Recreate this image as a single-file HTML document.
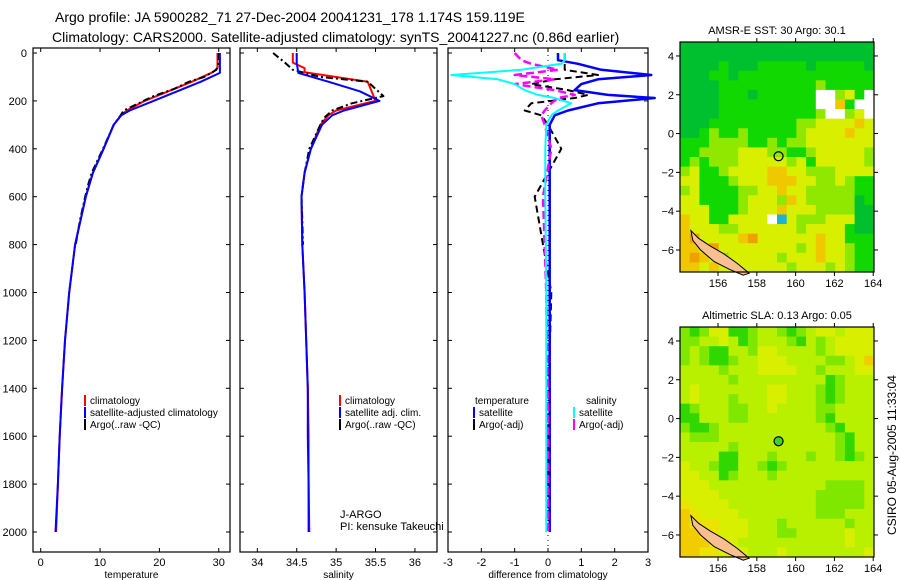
<!DOCTYPE html>
<html><head><meta charset="utf-8"><style>
body{margin:0;background:#fff;}
svg{display:block;font-family:"Liberation Sans",sans-serif;}
</style></head><body>
<svg id="c" width="900" height="580" viewBox="0 0 900 580">
<text x="55" y="22" font-size="14">Argo profile: JA 5900282_71 27-Dec-2004 20041231_178 1.174S 159.119E</text>
<text x="52" y="42" font-size="14">Climatology: CARS2000. Satellite-adjusted climatology: synTS_20041227.nc (0.86d earlier)</text>
<text x="777" y="34" font-size="11" text-anchor="middle">AMSR-E SST: 30 Argo: 30.1</text>
<text x="777" y="319" font-size="11" text-anchor="middle">Altimetric SLA: 0.13 Argo: 0.05</text>
<text transform="translate(896,535) rotate(-90)" font-size="12">CSIRO 05-Aug-2005 11:33:04</text>
<text x="340" y="518" font-size="11">J-ARGO</text>
<text x="340" y="530" font-size="11">PI: kensuke Takeuchi</text>
</svg>
<script>
// ---- data ----
const depthTicks=[0,200,400,600,800,1000,1200,1400,1600,1800,2000];
const tempTicks=[0,10,20,30];
const salTicks=[34,34.5,35,35.5,36];
const salTickLabels=["34","34.5","35","35.5","36"];
const diffTicks=[-3,-2,-1,0,1,2,3];
const climDepth=[0,40,63,80,120,160,200,240,260,300,400,500,600,800,1000,1200,1400,1600,1800,2000];
const climTemp=[29.8,29.8,29.8,29.0,25.5,21.5,17.5,14.5,13.5,12.3,10.6,8.8,7.6,5.8,4.8,4.1,3.6,3.2,2.9,2.6];
const satDepth=[0,40,83,120,160,200,240,260,300,400,500,600,800,1000,1200,1400,1600,1800,2000];
const satTemp=[30.2,30.2,30.2,27.0,23.0,19.0,15.0,13.6,12.3,10.6,8.8,7.6,5.8,4.8,4.1,3.6,3.2,2.9,2.5];
const argoDepth=[0,40,70,100,120,150,180,210,240,270,300,400,500,550,600,700,800];
const argoTemp=[30.0,30.0,29.6,27.5,25.0,22.5,19.0,16.5,14.0,13.2,12.3,10.5,8.6,8.0,7.5,6.6,5.9];
const climSal=[34.45,34.45,34.6,34.6,35.4,35.45,35.5,35.0,34.9,34.8,34.68,34.6,34.56,34.57,34.6,34.62,34.64,34.65,34.65,34.66];
const satSal=[34.5,34.5,34.52,34.9,35.3,35.55,35.1,34.95,34.82,34.68,34.6,34.56,34.57,34.6,34.62,34.64,34.64,34.65,34.65];
const argoSal=[34.2,34.35,34.45,34.8,35.4,35.5,35.6,35.2,34.95,34.85,34.8,34.66,34.6,34.58,34.56,34.57,34.58];
const diffDepth=[0,30,45,70,92,110,130,155,175,188,210,240,260,300,400,600,1000,1500,2000];
const dTempSat=[0.3,0.3,0.9,1.6,3.1,1.5,1.0,0.8,1.8,3.2,1.5,0.6,0.2,0.05,0.05,0.05,0.05,0.05,0.05];
const dSalSat=[0.5,0.5,0.4,-0.8,-2.9,-1.5,-1.0,-0.7,-0.3,0.2,0.7,0.3,0.1,-0.05,-0.08,-0.08,-0.05,-0.05,-0.05];
const dSalArgo=[-1.0,-0.8,-0.5,0.3,-1.0,0.2,-1.0,0.2,0.8,0.3,0.1,-0.1,-0.2,-0.1,0.1,-0.15,-0.05,0,0];
const dTempArgo=[0.5,0.5,0.5,0.5,1.5,0.2,-0.5,0.6,1.2,0.8,-0.5,-0.7,-0.2,0,0.4,-0.4,0.1,0,0];
const lonTicks=[156,158,160,162,164];
const latTicks=[-6,-4,-2,0,2,4];
const sstRows=["gggggggggggggggggggg","gggggggggggggggggggg","ggggGgggGGGGGgGGGGGg","gggGGgGGGGGGGGGGGGGG","ggggGGGGGGGGGGlGGGGG","ggggGGGgGGGGGGwwlyGw","ggggGGGGGGGGGGwwoGww","ggggGGGGGGGGGGlwwlyw","gggGGGGGGGGGllyyyyoy","ggGlGGlGGGGGlyyyyoyy","GGGllllGGlGllyyyyyyy","GGllllyyyllGGlyyyyyl","GlGlllyyyyylyGyyyyyl","lyGGlyyyyooyylllyyyy","yyGGGlyyyoooyyllylGG","lyGGGGllyyoyylllllGG","yyGGGGlyyyloylllllgG","yyyGGGlyyyoyyyllllgg","oyyGGyyyywcylllyyygg","oyyyllyyyyyylyyyyGgg","oOyyyyoOyyyyyyoyyGGG","ooyOyyyyyyyylyoyylGG","oOoylyyyyylyyyoyylGG","ooyoyyyyyyylyyylylGG"];
const slaRows=["gGgyyGGgllgGglyylyyy","ggllylGglllgGlglyyyy","glgGGllgyyllllglyyyy","glgGGgllyyyllllgglyo","llllglllyyyyllglllyy","lllllglllllllllGglll","lylllllllyylllgGglll","lylllglllyylllgGglll","Gglllggllyllllggllll","GGlllgglllllllgGllll","gGGglllllllllllgGlll","lgggllllllllllllgGll","lllllgllllllllllgGll","llllGGlllglllgllgGgl","yllgGGllgGglllllllll","yyllGglllgllllllllll","yyyllllllllllllggggl","yyyyllllllllllgggggl","Yyyyylllllllllgggggl","oYyyyyllllllllggglll","oYYYyyylllgllllllgll","ooYYyyylllgglllllyll","oooYYylllllllllllyll","ooYYyyylllylllllllly"];
const argoLon=159.12, argoLat=-1.17;
const coastLon=[154.6,155.0,155.6,156.3,157.0,157.6,157.3,156.6,155.8,155.1,154.7];
const coastLat=[-5.0,-5.4,-5.8,-6.2,-6.7,-7.2,-7.3,-7.0,-6.6,-6.0,-5.5];

const NS="http://www.w3.org/2000/svg";
const svg=document.getElementById('c');
function mk(tag,attrs,parent){const e=document.createElementNS(NS,tag);for(const k in attrs)e.setAttribute(k,attrs[k]);(parent||svg).appendChild(e);return e;}
function txt(x,y,s,size,anchor,parent){const t=mk('text',{x:x,y:y,'font-size':size,'text-anchor':anchor||'start'},parent);t.textContent=s;return t;}

const yD=d=>53+d*0.2395;
function panel(name,x0,x1,xmin,xmax,ticks,labels,xlabel,showY){
  const g=mk('g',{});
  
  
  const xs=v=>x0+(v-xmin)/(xmax-xmin)*(x1-x0);
  const fr=mk('rect',{x:x0,y:48,width:x1-x0,height:504,fill:'none',stroke:'#000','stroke-width':1.2},g);
  
  
  depthTicks.forEach(d=>{
    mk('line',{x1:x0,x2:x0+4,y1:yD(d),y2:yD(d),stroke:'#000'},g);
    mk('line',{x1:x1-4,x2:x1,y1:yD(d),y2:yD(d),stroke:'#000'},g);
    if(showY){const t=txt(x0-6,yD(d)+4,String(d),11,'end',g);
      
      }
  });
  ticks.forEach((v,i)=>{
    const x=xs(v);
    mk('line',{x1:x,x2:x,y1:552,y2:548,stroke:'#000'},g);
    mk('line',{x1:x,x2:x,y1:48,y2:52,stroke:'#000'},g);
    const t=txt(x,566,labels[i],11,'middle',g);
    
    
  });
  const xl=txt((x0+x1)/2,578,xlabel,10,'middle',g);
  
  
  return {g,xs};
}
function series(p,name,depths,vals,color,w,dash){
  const pts=depths.map((d,i)=>p.xs(vals[i]).toFixed(1)+','+yD(d).toFixed(1)).join(' ');
  const l=mk('polyline',{points:pts,fill:'none',stroke:color,'stroke-width':w,'stroke-dasharray':dash||'none','stroke-linejoin':'round'},p.g);
  
  
}
function legend(p,x,y,label,color,name){
  const g=mk('g',{},p.g);
  
  
  mk('rect',{x:x,y:y-9,width:2,height:11,fill:color},g);
  if(label) txt(x+6,y,label,10,'start',g);
}

const p1=panel('temperature-panel',33,230,-1.3,31.9,tempTicks,tempTicks.map(String),'temperature',true);
series(p1,'climatology-temp-line',climDepth,climTemp,'#f00',2);
series(p1,'argo-temp-line',argoDepth,argoTemp,'#000',2,'7,3,2,3');
series(p1,'satellite-temp-line',satDepth,satTemp,'#00f',2);
legend(p1,84,404,'climatology','#f00','legend-climatology');
legend(p1,84,416,'satellite-adjusted climatology','#00f','legend-satellite');
legend(p1,84,428,'Argo(..raw -QC)','#000','legend-argo');

const p2=panel('salinity-panel',240,437,33.78,36.28,salTicks,salTickLabels,'salinity',false);
series(p2,'climatology-sal-line',climDepth,climSal,'#f00',2);
series(p2,'argo-sal-line',argoDepth,argoSal,'#000',2,'7,3,2,3');
series(p2,'satellite-sal-line',satDepth,satSal,'#00f',2);
legend(p2,339,404,'climatology','#f00','legend-sal-climatology');
legend(p2,339,416,'satellite adj. clim.','#00f','legend-sal-satellite');
legend(p2,339,428,'Argo(..raw -QC)','#000','legend-sal-argo');

const p3=panel('difference-panel',448,648,-3,3,diffTicks,diffTicks.map(String),'difference from climatology',false);
mk('line',{x1:p3.xs(0),x2:p3.xs(0),y1:50,y2:550,stroke:'#000','stroke-dasharray':'1,4'},p3.g);
series(p3,'argo-temp-diff-line',diffDepth,dTempArgo,'#000',2,'7,4');
series(p3,'satellite-temp-diff-line',diffDepth,dTempSat,'#00f',2.5);
series(p3,'argo-sal-diff-line',diffDepth,dSalArgo,'#f0f',2.5,'8,4');
series(p3,'satellite-sal-diff-line',diffDepth,dSalSat,'#0ff',2);
legend(p3,469,404,'temperature','transparent','legend-temp-header');
legend(p3,473,416,'satellite','#00f','legend-diff-temp-sat');
legend(p3,473,428,'Argo(-adj)','#000','legend-diff-temp-argo');
legend(p3,580,404,'salinity','transparent','legend-sal-header');
legend(p3,573,416,'satellite','#0ff','legend-diff-sal-sat');
legend(p3,573,428,'Argo(-adj)','#f0f','legend-diff-sal-argo');

const sstPal={g:'#00c030',G:'#10d800',l:'#90e800',y:'#d8f000',o:'#f0c800',O:'#f0a000',w:'#ffffff',c:'#20b0d0'};
const slaPal={G:'#30d800',g:'#80e800',l:'#b8f000',y:'#d8f000',Y:'#ece400',o:'#f0cc00'};
function map(name,x0,y0,rows,pal){
  const g=mk('g',{});
  
  
  const w=194,h=230;
  const lonMin=154.04,lonMax=164.04,latMax=4.72;
  const xs=l=>x0+(l-lonMin)/(lonMax-lonMin)*w;
  const ys=l=>y0+(latMax-l)*19.4;
  const cols=rows[0].length,cw=w/cols,ch=h/rows.length;
  rows.forEach((r,i)=>{[...r].forEach((c,j)=>{
    const cell=mk('rect',{x:(x0+j*cw).toFixed(2),y:(y0+i*ch).toFixed(2),width:(cw+0.4).toFixed(2),height:(ch+0.4).toFixed(2),fill:pal[c]},g);
    
    
  });});
  const pts=coastLon.map((l,i)=>xs(l).toFixed(1)+','+ys(coastLat[i]).toFixed(1)).join(' ');
  const co=mk('polygon',{points:pts,fill:'#f8c090',stroke:'#000','stroke-width':1},g);
  
  
  const dot=mk('circle',{cx:xs(argoLon),cy:ys(argoLat),r:4.5,fill:name==='sla-map'?'#40d030':'none',stroke:'#000','stroke-width':1.2},g);
  
  
  mk('rect',{x:x0,y:y0,width:w,height:h,fill:'none',stroke:'#000','stroke-width':1.2},g);
  lonTicks.forEach(l=>{
    mk('line',{x1:xs(l),x2:xs(l),y1:y0-4,y2:y0,stroke:'#000'},g);
    mk('line',{x1:xs(l),x2:xs(l),y1:y0+h,y2:y0+h+4,stroke:'#000'},g);
    const t=txt(xs(l),y0+h+15,String(l),11,'middle',g);
    
    
  });
  latTicks.forEach(l=>{
    mk('line',{x1:x0-4,x2:x0,y1:ys(l),y2:ys(l),stroke:'#000'},g);
    mk('line',{x1:x0+w,x2:x0+w+4,y1:ys(l),y2:ys(l),stroke:'#000'},g);
    const t=txt(x0-6,ys(l)+4,l<0?'\u2212'+(-l):String(l),11,'end',g);
    
    
  });
}
map('sst-map',680,42,sstRows,sstPal);
map('sla-map',680,327,slaRows,slaPal);
</script>
</body></html>
